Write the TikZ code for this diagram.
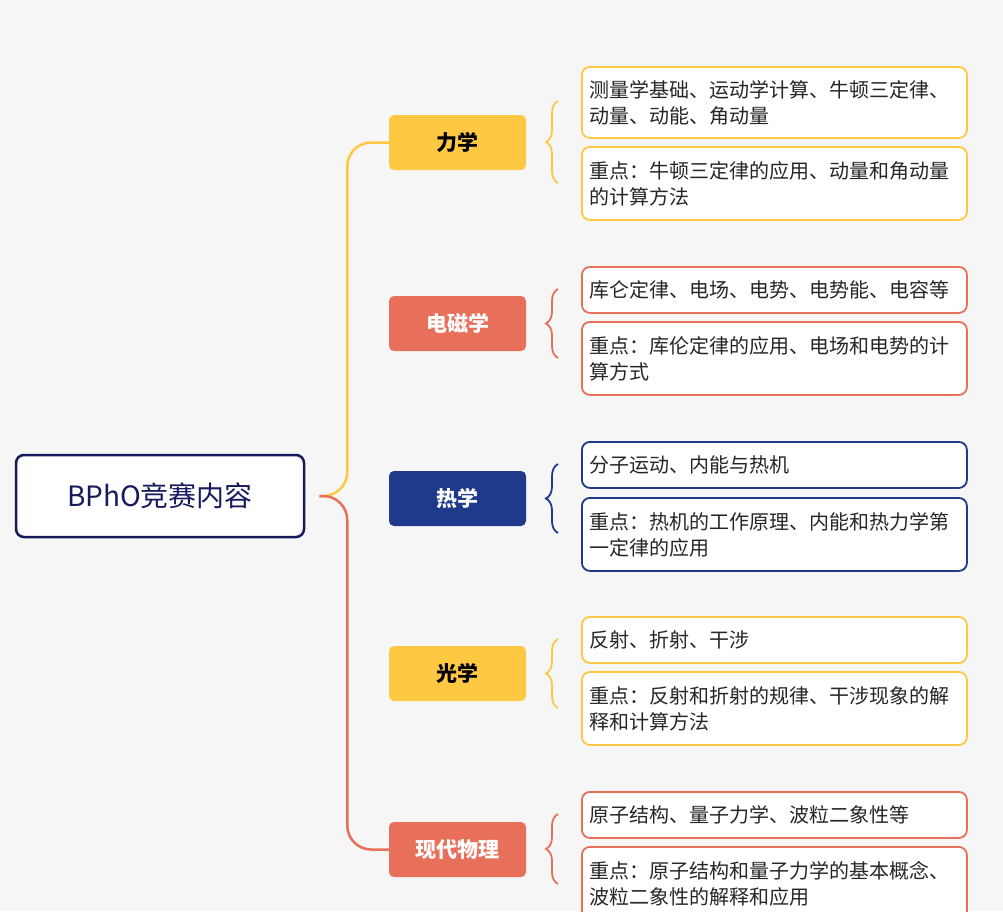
\documentclass[tikz,border=0pt]{standalone}
\usepackage{fontspec}
\setmainfont{Noto Sans CJK SC}
\usetikzlibrary{decorations.pathreplacing}
\definecolor{bg}{HTML}{F6F6F6}
\definecolor{cy}{HTML}{FFC843}
\definecolor{co}{HTML}{E8705A}
\definecolor{cn}{HTML}{1F3A8A}
\definecolor{cnr}{HTML}{161A5E}
\tikzset{
 cat/.style={rounded corners=5pt, minimum width=137pt, minimum height=55pt, font=\fontsize{21}{24}\selectfont\bfseries, inner sep=0pt},
 det/.style={draw, fill=white, line width=1.8pt, rounded corners=8pt, anchor=north west, minimum width=385pt, text width=370pt, align=left, font=\fontsize{20}{26}\selectfont, text=black!85, inner sep=0pt},
 br/.style={decorate, decoration={brace, amplitude=12pt}, line width=1.8pt},
 link/.style={line width=2.5pt, rounded corners=24pt}
}
\begin{document}
\begin{tikzpicture}[x=1pt,y=-1pt]
\clip (0,0) rectangle (1003,911);
\fill[bg] (0,0) rectangle (1003,911);
\node[draw=cnr, fill=white, line width=2.5pt, rounded corners=8pt, minimum width=288pt, minimum height=82pt, text=cnr, font=\fontsize{28}{32}\selectfont] (root) at (160,496) {BPhO竞赛内容};
\node[cat, fill=cy, text=black] (c1) at (457.5,142.5) {力学};
\node[cat, fill=co, text=white] (c2) at (457.5,323.5) {电磁学};
\node[cat, fill=cn, text=white] (c3) at (457.5,498.5) {热学};
\node[cat, fill=cy, text=black] (c4) at (457.5,673.5) {光学};
\node[cat, fill=co, text=white] (c5) at (457.5,849.5) {现代物理};
\draw[link, cy] ([xshift=14pt]root.east) -- ++(28,0) |- (c1.west);
\draw[link, co] ([xshift=14pt]root.east) -- ++(28,0) |- (c5.west);
% details
\node[det, draw=cy, minimum height=71pt] (d1a) at (581,66) {测量学基础、运动学计算、牛顿三定律、\\动量、动能、角动量};
\node[det, draw=cy, minimum height=73pt] (d1b) at (581,146) {重点：牛顿三定律的应用、动量和角动量\\的计算方法};
\node[det, draw=co, minimum height=46pt] (d2a) at (581,266) {库仑定律、电场、电势、电势能、电容等};
\node[det, draw=co, minimum height=73pt] (d2b) at (581,321) {重点：库伦定律的应用、电场和电势的计\\算方式};
\node[det, draw=cn, minimum height=46pt] (d3a) at (581,441) {分子运动、内能与热机};
\node[det, draw=cn, minimum height=73pt] (d3b) at (581,497) {重点：热机的工作原理、内能和热力学第\\一定律的应用};
\node[det, draw=cy, minimum height=46pt] (d4a) at (581,616) {反射、折射、干涉};
\node[det, draw=cy, minimum height=73pt] (d4b) at (581,671) {重点：反射和折射的规律、干涉现象的解\\释和计算方法};
\node[det, draw=co, minimum height=46pt] (d5a) at (581,791) {原子结构、量子力学、波粒二象性等};
\node[det, draw=co, minimum height=73pt] (d5b) at (581,846) {重点：原子结构和量子力学的基本概念、\\波粒二象性的解释和应用};
% braces
\draw[br, cy] (558,183) -- (558,101);
\draw[br, co] (558,358) -- (558,289);
\draw[br, cn] (558,533) -- (558,464);
\draw[br, cy] (558,708) -- (558,639);
\draw[br, co] (558,884) -- (558,814);
\end{tikzpicture}
\end{document}
